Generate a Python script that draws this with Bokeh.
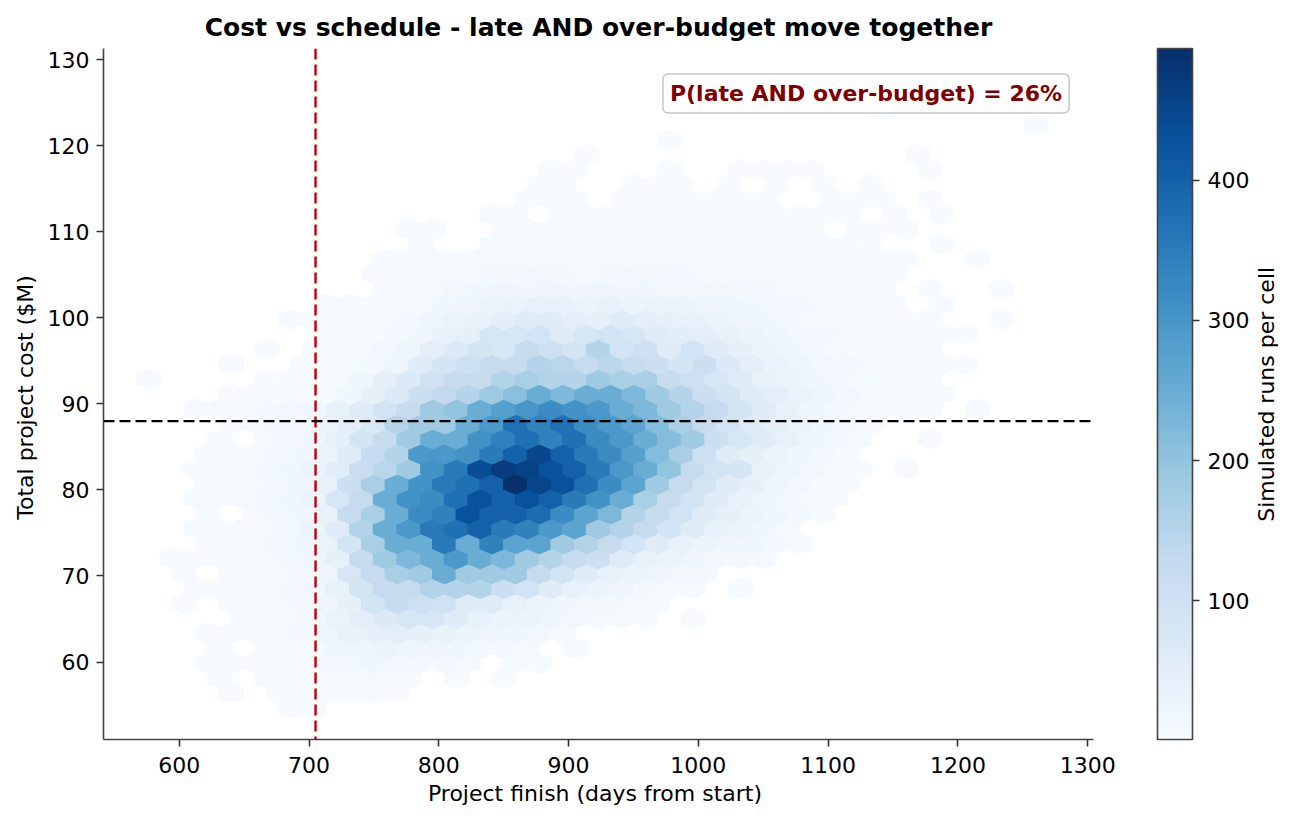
import numpy as np
from bokeh.plotting import figure
from bokeh.models import (ColumnDataSource, LinearColorMapper, ColorBar,
                          FixedTicker, Label, Span, LinearAxis)
from bokeh.palettes import Blues256
from bokeh.embed import file_html
from bokeh.resources import INLINE

# hexbin lattice (matplotlib style, pointy-top cells)
x_min, y_min = 576.3, 54.64     # centre of the first lattice cell
cell_w, cell_h = 18.25, 3.478   # sx, sy of the lattice

deadline_day = 705
budget_musd = 88
p_late_over_pct = 26

x_ticks = [600, 700, 800, 900, 1000, 1100, 1200, 1300]
y_ticks = [60, 70, 80, 90, 100, 110, 120, 130]
cbar_ticks = [100, 200, 300, 400]

# rows of cells from bottom to top (half a lattice step apart):
# index of the first cell in the row, then runs per cell (0 = empty)
hex_row_start = [6, 3, 3, 2, 3, 2, 4, 1, 2, 1, 1, 2, 2, 2, 2, 2, 2, 2, 3, 3,
                 2, 3, 0, 3, 5, 7, 6, 7, 10, 9, 10, 11, 11, 14, 16, 16, 17,
                 18, 22, 37, 31]
hex_row_counts = [
    [3, 3],
    [3, 0, 2, 3, 4, 5, 6, 4],
    [3, 0, 3, 5, 6, 8, 10, 10, 6, 0, 4, 0, 4],
    [2, 3, 4, 5, 8, 12, 15, 20, 15, 12, 12, 10, 0, 6, 5],
    [3, 0, 4, 6, 10, 20, 25, 30, 25, 25, 20, 15, 12, 10, 0, 5],
    [3, 4, 5, 8, 12, 25, 40, 45, 50, 45, 40, 30, 25, 20, 15, 10],
    [4, 6, 8, 15, 35, 50, 70, 80, 80, 60, 40, 30, 30, 25, 15, 10, 8, 6, 0, 4],
    [3, 0, 4, 6, 8, 12, 25, 45, 90, 120, 105, 100, 60, 60, 40, 30, 25, 18,
     12, 8, 6],
    [3, 4, 6, 8, 12, 20, 40, 90, 124, 124, 155, 155, 155, 110, 95, 60, 40,
     30, 25, 12, 10, 8, 0, 5],
    [3, 0, 4, 6, 10, 15, 25, 80, 124, 170, 185, 250, 185, 185, 185, 124, 95,
     60, 40, 30, 25, 18, 12],
    [3, 4, 5, 8, 10, 15, 25, 45, 124, 185, 225, 250, 295, 250, 225, 185, 155,
     124, 110, 60, 40, 30, 25, 18, 12, 8],
    [4, 6, 8, 12, 20, 35, 90, 170, 250, 250, 355, 250, 340, 270, 270, 185,
     155, 124, 95, 60, 40, 30, 25, 20, 12, 6],
    [5, 6, 8, 10, 15, 30, 60, 155, 250, 295, 355, 371, 400, 355, 340, 295,
     270, 185, 155, 124, 95, 60, 40, 30, 20, 10],
    [5, 0, 8, 12, 20, 40, 124, 170, 250, 320, 340, 432, 400, 400, 380, 320,
     270, 225, 155, 124, 95, 60, 45, 30, 20, 12, 6],
    [5, 6, 8, 12, 20, 35, 80, 124, 250, 309, 320, 371, 432, 400, 432, 400,
     355, 309, 250, 170, 124, 95, 60, 40, 25, 15, 8, 4],
    [5, 8, 10, 15, 25, 40, 110, 170, 250, 309, 355, 371, 400, 494, 455, 432,
     371, 320, 270, 185, 124, 95, 60, 45, 25, 15, 6, 4],
    [6, 6, 10, 12, 20, 35, 55, 115, 145, 185, 309, 355, 440, 470, 460, 430,
     400, 355, 295, 250, 200, 124, 95, 85, 40, 25, 15, 8, 5, 0, 4],
    [5, 8, 10, 12, 20, 35, 60, 120, 155, 295, 295, 309, 355, 400, 450, 400,
     355, 320, 280, 215, 170, 105, 60, 45, 30, 20, 12, 6],
    [6, 0, 10, 15, 25, 45, 90, 120, 185, 250, 250, 309, 340, 371, 340, 371,
     320, 295, 250, 215, 185, 110, 80, 60, 40, 25, 15, 10, 0, 0, 3],
    [6, 10, 12, 18, 30, 50, 75, 155, 185, 185, 250, 295, 370, 340, 370, 320,
     295, 270, 215, 170, 124, 95, 60, 45, 30, 20, 12, 8],
    [4, 8, 10, 12, 15, 20, 40, 60, 95, 124, 185, 200, 250, 280, 300, 320,
     309, 295, 250, 225, 185, 150, 124, 85, 60, 40, 20, 15, 10, 8, 5, 4, 0, 3],
    [3, 4, 5, 6, 10, 20, 45, 70, 110, 130, 150, 185, 210, 250, 225, 250, 250,
     225, 185, 150, 110, 90, 60, 50, 35, 25, 15, 10, 8, 5, 3],
    [3, 0, 0, 0, 0, 2, 4, 6, 10, 25, 45, 70, 100, 124, 124, 155, 170, 155,
     150, 185, 170, 170, 124, 105, 80, 60, 40, 30, 20, 15, 10, 6, 4, 3],
    [3, 0, 0, 3, 4, 6, 12, 25, 60, 85, 105, 124, 124, 150, 145, 124, 140,
     124, 110, 85, 110, 70, 50, 35, 25, 18, 12, 8, 5, 4, 3, 2],
    [3, 0, 3, 5, 8, 15, 25, 50, 70, 90, 80, 124, 105, 90, 150, 95, 105, 60,
     95, 60, 45, 30, 20, 15, 10, 6, 5, 3, 3],
    [3, 4, 6, 12, 22, 40, 45, 80, 80, 95, 60, 80, 95, 80, 60, 55, 50, 40, 30,
     25, 18, 12, 8, 5, 4, 3, 2, 2],
    [3, 3, 4, 6, 8, 12, 25, 35, 40, 50, 60, 60, 50, 45, 60, 50, 45, 40, 30,
     25, 20, 15, 10, 8, 5, 4, 3, 2, 0, 0, 2],
    [3, 3, 5, 6, 10, 20, 25, 30, 35, 40, 40, 30, 40, 30, 35, 30, 25, 25, 20,
     15, 12, 8, 6, 4, 3, 0, 2],
    [3, 5, 10, 18, 20, 25, 20, 25, 20, 25, 20, 20, 18, 15, 15, 12, 12, 10, 8,
     5, 4, 3, 0, 2, 0, 0, 2],
    [3, 3, 5, 8, 10, 12, 12, 15, 12, 3, 12, 15, 12, 12, 10, 10, 8, 8, 6, 5,
     4, 3, 3],
    [3, 3, 5, 6, 8, 8, 10, 8, 8, 10, 8, 10, 8, 8, 6, 6, 6, 6, 5, 4, 3, 3, 2,
     0, 0, 2],
    [3, 0, 0, 5, 4, 5, 6, 5, 6, 5, 6, 5, 5, 4, 4, 4, 3, 3, 3, 2, 0, 0, 2],
    [3, 3, 0, 0, 3, 4, 4, 3, 4, 4, 3, 4, 3, 3, 3, 3, 3, 3, 0, 2, 2, 2],
    [3, 3, 0, 3, 3, 3, 4, 3, 3, 3, 3, 2, 3, 2, 2, 2, 0, 2, 0, 2],
    [2, 2, 2, 0, 3, 2, 3, 2, 2, 2, 2, 0, 0, 2, 2, 2, 0, 2],
    [2, 2, 0, 0, 2, 2, 2, 0, 2, 0, 2, 0, 2, 0, 2],
    [1, 1, 0, 0, 0, 1, 0, 0, 1, 1, 1, 1, 0, 0, 0, 0, 1],
    [1, 0, 0, 0, 0, 0, 0, 0, 0, 0, 0, 0, 0, 0, 1],
    [1],
    [1],
    [1],
]

xs, ys, counts = [], [], []
dx = np.array([0.5, 0.5, 0.0, -0.5, -0.5, 0.0])
dy = np.array([-1 / 6, 1 / 6, 1 / 3, 1 / 6, -1 / 6, -1 / 3])
for k, (start, row) in enumerate(zip(hex_row_start, hex_row_counts)):
    cy = y_min + k * cell_h / 2
    off = 0.5 if k % 2 else 0.0
    for j, c in enumerate(row):
        if c == 0:
            continue
        cx = x_min + (start + j + off) * cell_w
        xs.append(list(cx + dx * cell_w))
        ys.append(list(cy + dy * cell_h))
        counts.append(c)

src = ColumnDataSource(dict(xs=xs, ys=ys, count=counts))

pal = list(Blues256)
if pal[0].lower() != "#f7fbff":
    pal = pal[::-1]
mapper = LinearColorMapper(palette=pal, low=min(counts), high=max(counts))

p = figure(width=1294, height=817,
           x_range=(541.6, 1304.5), y_range=(50.99, 131.33),
           title="Cost vs schedule - late AND over-budget move together",
           output_backend="svg", toolbar_location=None,
           min_border_left=103, min_border_right=199,
           min_border_top=48, min_border_bottom=78)

p.patches("xs", "ys", source=src,
          fill_color={"field": "count", "transform": mapper},
          line_color={"field": "count", "transform": mapper},
          line_width=1.5)

p.add_layout(Span(location=deadline_day, dimension="height",
                  line_color="#c00000", line_width=2.4, line_dash="11 5"))
p.add_layout(Span(location=budget_musd, dimension="width",
                  line_color="black", line_width=2.2, line_dash="11 5"))

p.add_layout(Label(x=1129.2, y=126.1,
                   text=f"P(late AND over-budget) = {p_late_over_pct}%",
                   text_align="center", text_baseline="middle",
                   text_font="DejaVu Sans", text_font_size="22px",
                   text_font_style="bold", text_color="#7f0000",
                   background_fill_color="white", background_fill_alpha=0.9,
                   border_line_color="#c8c8c8", border_line_width=1.6,
                   padding=7, border_radius=5))

cb = ColorBar(color_mapper=mapper, location=(1054, 0), width=35, height=691,
              padding=0, margin=0, ticker=FixedTicker(ticks=cbar_ticks),
              major_label_text_font="DejaVu Sans",
              major_label_text_font_size="22px",
              major_label_text_color="black", label_standoff=8,
              major_tick_line_color="#333333", major_tick_line_width=1.6,
              major_tick_in=0, major_tick_out=7,
              bar_line_color="#444444", bar_line_width=1.6,
              border_line_color=None, background_fill_alpha=0)
p.add_layout(cb)

p.title.text_font = "DejaVu Sans"
p.title.text_font_size = "25px"
p.title.text_font_style = "bold"
p.title.text_color = "black"
p.title.align = "center"
p.title.standoff = 13

p.outline_line_color = None
p.grid.visible = False

xax, yax = p.xaxis[0], p.yaxis[0]
xax.ticker = FixedTicker(ticks=x_ticks)
yax.ticker = FixedTicker(ticks=y_ticks)
xax.axis_label = "Project finish  (days from start)"
yax.axis_label = "Total project cost  ($M)"
for ax in (xax, yax):
    ax.axis_line_color = "#444444"
    ax.axis_line_width = 1.6
    ax.major_tick_line_color = "#333333"
    ax.major_tick_line_width = 1.6
    ax.major_tick_in = 0
    ax.major_tick_out = 7
    ax.minor_tick_line_color = None
    ax.major_label_text_font = "DejaVu Sans"
    ax.major_label_text_font_size = "22px"
    ax.major_label_text_color = "black"
    ax.axis_label_text_font = "DejaVu Sans"
    ax.axis_label_text_font_size = "22px"
    ax.axis_label_text_font_style = "normal"
    ax.axis_label_text_color = "black"
xax.major_label_standoff = 10
xax.axis_label_standoff = 5
yax.major_label_standoff = 7
yax.axis_label_standoff = 7

# colour bar caption: a bare axis on the right whose only tick label is the
# caption, rotated to read upwards; the tick sits where the text starts
caption_start = 76.3
cb_caption = LinearAxis(ticker=FixedTicker(ticks=[caption_start]),
                        major_label_overrides={caption_start:
                                               "Simulated runs per cell"},
                        major_label_orientation=np.pi / 2,
                        major_label_standoff=173,
                        axis_line_color=None, major_tick_line_color=None,
                        minor_tick_line_color=None,
                        major_tick_in=0, major_tick_out=0,
                        major_label_text_font="DejaVu Sans",
                        major_label_text_font_size="22px",
                        major_label_text_color="black")
p.add_layout(cb_caption, "right")

open("out.html", "w").write(file_html(p, INLINE))
